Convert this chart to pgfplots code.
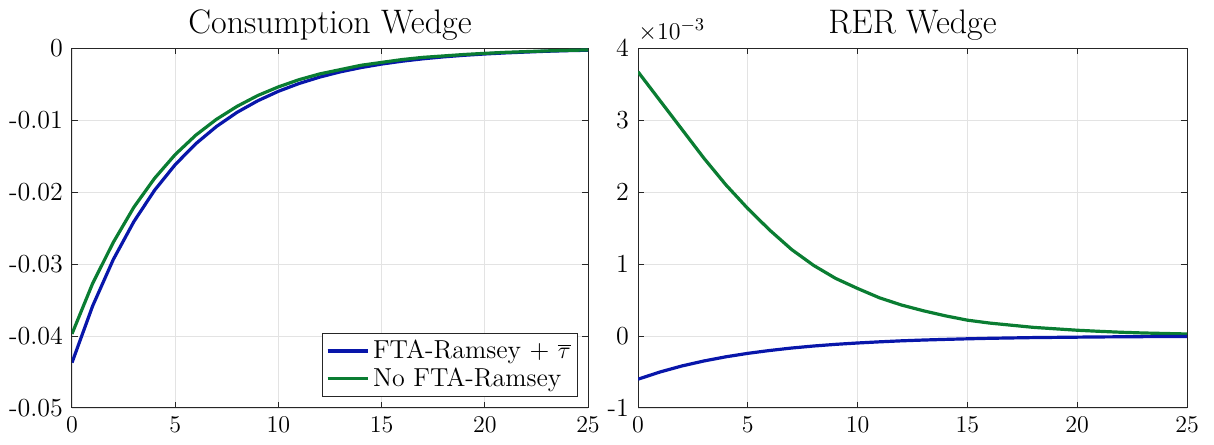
\documentclass[border=0pt]{standalone}
\usepackage{pgfplots}
\pgfplotsset{compat=1.18}
\definecolor{cblue}{RGB}{8,22,170}
\definecolor{cgreen}{RGB}{10,125,50}
\definecolor{axgray}{RGB}{38,38,38}
\pgfplotsset{
  mstyle/.style={
    scale only axis,
    height=180pt,
    xmin=0, xmax=25,
    xtick={0,5,10,15,20,25},
    scaled y ticks=false,
    clip mode=individual,
    tick align=inside,
    tick pos=both,
    major tick length=3pt,
    grid=major,
    major grid style={gray!22, line width=0.4pt},
    axis line style={axgray, line width=0.5pt},
    every tick/.style={axgray, line width=0.5pt},
    tick label style={font=\fontsize{13}{15}\selectfont, text=black},
    title style={font=\fontsize{17}{20}\selectfont, yshift=-5.5pt},
    xticklabel style={yshift=-1pt},
    yticklabel style={xshift=-1pt},
    every axis plot/.append style={line width=1.6pt, mark=none},
  }
}
\begin{document}
\begin{tikzpicture}
\useasboundingbox (0,0) rectangle (607pt,222pt);
\begin{axis}[mstyle,
  at={(36pt,18pt)}, anchor=south west,
  width=258pt,
  ymin=-0.05, ymax=0,
  ytick={-0.05,-0.04,-0.03,-0.02,-0.01,0},
  yticklabels={-0.05,-0.04,-0.03,-0.02,-0.01,0},
  title={Consumption Wedge},
  legend style={at={(0.981,0.031)}, anchor=south east, draw=axgray, line width=0.5pt,
    font=\fontsize{13}{15}\selectfont, inner sep=1.5pt, row sep=-1pt, cells={anchor=west}},
  legend image code/.code={\draw[#1, line width=1.6pt] (0pt,0pt) -- (20pt,0pt);},
]
\addplot[cblue] coordinates {
(0,-0.0437) (1,-0.03583) (2,-0.02938) (3,-0.02410) (4,-0.01976) (5,-0.01620)
(6,-0.01329) (7,-0.01090) (8,-0.00893) (9,-0.00733) (10,-0.00601) (11,-0.00493)
(12,-0.00404) (13,-0.00331) (14,-0.00272) (15,-0.00223) (16,-0.00183) (17,-0.00150)
(18,-0.00123) (19,-0.00101) (20,-0.00083) (21,-0.00068) (22,-0.00056) (23,-0.00045)
(24,-0.00037) (25,-0.00031)};
\addlegendentry{FTA-Ramsey + $\overline{\tau}$}
\addplot[cgreen] coordinates {
(0,-0.0397) (1,-0.0327) (2,-0.0270) (3,-0.0221) (4,-0.0181) (5,-0.0148)
(6,-0.0121) (7,-0.0099) (8,-0.0081) (9,-0.0066) (10,-0.0054) (11,-0.0044)
(12,-0.0036) (13,-0.0030) (14,-0.0024) (15,-0.0020) (16,-0.0016) (17,-0.0013)
(18,-0.0011) (19,-0.0009) (20,-0.00074) (21,-0.0006) (22,-0.0005) (23,-0.0004)
(24,-0.00033) (25,-0.00027)};
\addlegendentry{No FTA-Ramsey}
\end{axis}
\begin{axis}[mstyle,
  at={(319pt,18pt)}, anchor=south west,
  width=274.5pt,
  ymin=-1, ymax=4,
  ytick={-1,0,1,2,3,4},
  yticklabels={-1,0,1,2,3,4},
  title={RER Wedge},
]
\node[anchor=south west, inner sep=0pt, font=\fontsize{13}{15}\selectfont] at (rel axis cs:0,1) [yshift=3pt] {$\times10^{-3}$};
\addplot[cgreen] coordinates {
(0,3.67) (1,3.27) (2,2.87) (3,2.47) (4,2.10) (5,1.77) (6,1.47) (7,1.20)
(8,0.98) (9,0.80) (10,0.66) (11,0.53) (12,0.43) (13,0.35) (14,0.28) (15,0.22)
(16,0.18) (17,0.15) (18,0.12) (19,0.10) (20,0.08) (21,0.065) (22,0.052) (23,0.042)
(24,0.035) (25,0.028)};
\addplot[cblue] coordinates {
(0,-0.60) (1,-0.50) (2,-0.416) (3,-0.347) (4,-0.289) (5,-0.241) (6,-0.201)
(7,-0.167) (8,-0.139) (9,-0.116) (10,-0.097) (11,-0.081) (12,-0.067) (13,-0.056)
(14,-0.047) (15,-0.039) (16,-0.032) (17,-0.027) (18,-0.022) (19,-0.019) (20,-0.016)
(21,-0.013) (22,-0.011) (23,-0.009) (24,-0.0075) (25,-0.006)};
\end{axis}
\end{tikzpicture}
\end{document}
